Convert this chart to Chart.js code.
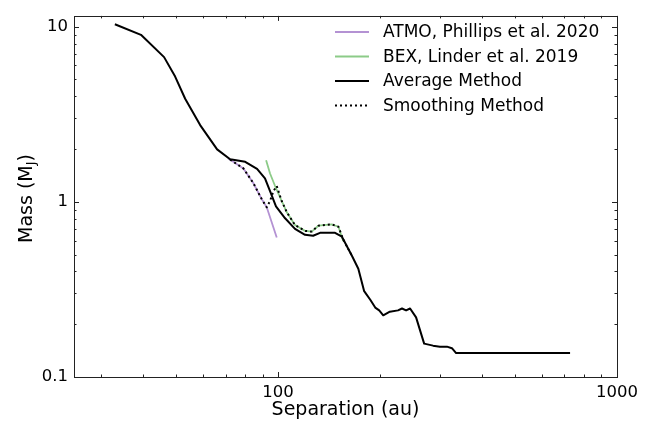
<!DOCTYPE html>
<html>
<head>
<meta charset="utf-8">
<script src="https://cdn.jsdelivr.net/npm/chart.js@4.4.1/dist/chart.umd.min.js"></script>
<style>
  html, body { margin: 0; padding: 0; background: #fff; }
  #wrap { width: 656px; height: 424px; }
</style>
</head>
<body>
<div id="wrap"><canvas id="grafico" width="656" height="424"></canvas></div>
<script>
// valores (separacao em au, massa em MJ)
const atmoSep = [71.2, 79.0, 84.5, 89.5, 92.6, 99.1]
const atmoMass = [1.77, 1.55, 1.28, 1.035, 0.93, 0.626]

const bexSep = [92.2, 94.7, 98.0, 102.5, 106.1, 112.2, 120.1, 125.7, 131.5, 144.0, 150.7, 155.8]
const bexMass = [1.725, 1.45, 1.23, 1.01, 0.872, 0.736, 0.682, 0.676, 0.730, 0.743, 0.72, 0.595]

const avgSep = [33.0, 39.4, 46.1, 49.7, 53.2, 58.9, 66.1, 72.2, 80.0, 86.7, 91.5, 94.7, 98.6, 104.9, 112.2, 120.1, 126.9, 133.0, 147.3, 154.3, 165.3, 172.5, 179.5, 187.1, 193.5, 198.8, 204.3, 213.7, 225.9, 232.1, 238.6, 245.2, 255.4, 269.8, 286.6, 300.3, 314.9, 325.8, 335.2, 727]
const avgMass = [10.3, 8.97, 6.69, 5.18, 3.87, 2.74, 1.99, 1.75, 1.69, 1.54, 1.36, 1.15, 0.94, 0.805, 0.70, 0.648, 0.640, 0.665, 0.665, 0.632, 0.49, 0.415, 0.309, 0.276, 0.249, 0.24, 0.225, 0.236, 0.24, 0.246, 0.24, 0.246, 0.219, 0.155, 0.151, 0.149, 0.149, 0.146, 0.137, 0.137]

const smoothSep = [72.2, 79.0, 84.5, 89.5, 92.6, 94.7, 96.9, 99.1, 102.5, 106.1, 112.2, 120.1, 125.7, 131.5, 144.0, 150.7, 155.8, 165.3]
const smoothMass = [1.74, 1.55, 1.28, 1.035, 0.93, 1.01, 1.15, 1.23, 1.01, 0.872, 0.736, 0.682, 0.676, 0.730, 0.743, 0.72, 0.608, 0.49]

const xTickLabels = [100, 1000]
const yTickLabels = [0.1, 1, 10]

const FONT = "'DejaVu Sans', sans-serif"

function pontos(xs, ys) {
  return xs.map((x, i) => ({ x: x, y: ys[i] }))
}

function serie(label, xs, ys, color, width, dash, order) {
  return {
    label: label,
    data: pontos(xs, ys),
    borderColor: color,
    backgroundColor: color,
    borderWidth: width,
    borderDash: dash,
    pointRadius: 0,
    tension: 0,
    borderJoinStyle: 'round',
    fill: false,
    order: order
  }
}

function ehLabel(lista, v) {
  return lista.some(t => Math.abs(t - v) / t < 1e-6)
}

// ticks para dentro nos quatro lados, legenda e titulos
const extras = {
  id: 'extras',
  afterDraw(chart) {
    const ctx = chart.ctx
    const a = chart.chartArea
    const sx = chart.scales.x
    const sy = chart.scales.y
    ctx.save()
    ctx.strokeStyle = '#222'
    ctx.lineWidth = 1

    ctx.strokeRect(Math.round(a.left) + 0.5, Math.round(a.top) + 0.5, Math.round(a.right - a.left), Math.round(a.bottom - a.top))

    function logTicks(scale, fn) {
      const d0 = Math.floor(Math.log10(scale.min))
      const d1 = Math.ceil(Math.log10(scale.max))
      for (let d = d0; d <= d1; d++) {
        for (let k = 1; k <= 9; k++) {
          const v = k * Math.pow(10, d)
          if (v < scale.min * 0.9999 || v > scale.max * 1.0001) continue
          fn(Math.round(scale.getPixelForValue(v)) + 0.5, k == 1 ? 5 : 2.5)
        }
      }
    }

    ctx.beginPath()
    logTicks(sx, (px, len) => {
      ctx.moveTo(px, a.bottom); ctx.lineTo(px, a.bottom - len)
      ctx.moveTo(px, a.top); ctx.lineTo(px, a.top + len)
    })
    logTicks(sy, (py, len) => {
      ctx.moveTo(a.left, py); ctx.lineTo(a.left + len, py)
      ctx.moveTo(a.right, py); ctx.lineTo(a.right - len, py)
    })
    ctx.stroke()

    // legenda
    ctx.font = '17px ' + FONT
    ctx.textBaseline = 'middle'
    ctx.textAlign = 'left'
    chart.data.datasets.forEach((ds, i) => {
      const y = 32 + i * 24.5
      ctx.beginPath()
      ctx.strokeStyle = ds.borderColor
      ctx.lineWidth = ds.borderWidth
      ctx.setLineDash(ds.borderDash || [])
      ctx.moveTo(335, y)
      ctx.lineTo(369, y)
      ctx.stroke()
      ctx.setLineDash([])
      ctx.fillStyle = '#000'
      ctx.fillText(ds.label, 383, y + 1)
    })

    // titulos dos eixos
    ctx.fillStyle = '#000'
    ctx.font = '19px ' + FONT
    ctx.textAlign = 'center'
    ctx.fillText('Separation (au)', (a.left + a.right) / 2, 410)

    ctx.translate(27, (a.top + a.bottom) / 2 + 2)
    ctx.rotate(-Math.PI / 2)
    const partes = ['Mass (M', 'J', ')']
    const w0 = ctx.measureText(partes[0]).width
    ctx.font = '13px ' + FONT
    const w1 = ctx.measureText(partes[1]).width
    ctx.font = '19px ' + FONT
    const w2 = ctx.measureText(partes[2]).width
    let x = -(w0 + w1 + w2) / 2
    ctx.textAlign = 'left'
    ctx.fillText(partes[0], x, 0)
    x += w0
    ctx.font = '13px ' + FONT
    ctx.fillText(partes[1], x, 5)
    x += w1
    ctx.font = '19px ' + FONT
    ctx.fillText(partes[2], x, 0)
    ctx.restore()
  }
}

const grafico = new Chart(document.getElementById('grafico'), {
  type: 'line',
  data: {
    datasets: [
      serie('ATMO, Phillips et al. 2020', atmoSep, atmoMass, '#b492d3', 1.8, [], 4),
      serie('BEX, Linder et al. 2019', bexSep, bexMass, '#8ccb88', 1.8, [], 3),
      serie('Average Method', avgSep, avgMass, '#000', 2, [], 2),
      serie('Smoothing Method', smoothSep, smoothMass, '#000', 2, [2, 3], 1)
    ]
  },
  options: {
    responsive: false,
    animation: false,
    devicePixelRatio: 1,
    layout: { padding: { top: 5, right: 39, left: 0, bottom: 0 } },
    plugins: {
      legend: { display: false },
      tooltip: { enabled: false }
    },
    scales: {
      x: {
        type: 'logarithmic',
        min: 25,
        max: 1000,
        grid: { display: false, drawTicks: false },
        border: { display: false },
        ticks: {
          autoSkip: false,
          maxRotation: 0,
          padding: 6,
          color: '#000',
          font: { family: FONT, size: 16.5 },
          callback: (v) => ehLabel(xTickLabels, v) ? String(v) : ''
        },
        afterFit: (s) => { s.height = 47 }
      },
      y: {
        type: 'logarithmic',
        min: 0.1,
        max: 11.5,
        grid: { display: false, drawTicks: false },
        border: { display: false },
        ticks: {
          autoSkip: false,
          padding: 6,
          color: '#000',
          font: { family: FONT, size: 16.5 },
          callback: (v) => ehLabel(yTickLabels, v) ? String(v) : ''
        },
        afterFit: (s) => { s.width = 74 }
      }
    }
  },
  plugins: [extras]
})
</script>
</body>
</html>
